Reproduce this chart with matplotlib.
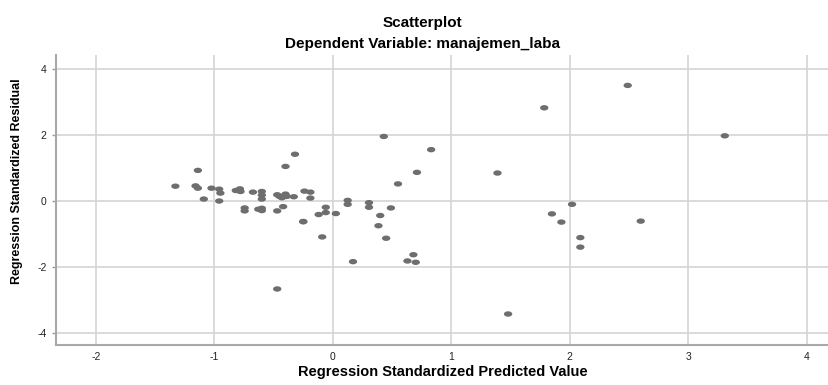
import numpy as np
import matplotlib
matplotlib.use("Agg")
import matplotlib.pyplot as plt
from matplotlib.path import Path

plt.rcParams['font.family'] = ['Liberation Sans', 'DejaVu Sans']
plt.rcParams['axes.unicode_minus'] = False

# regression standardized predicted value / residual
predicted = [
    2.49, 1.785, 3.31, 1.39, 2.02, 1.85, 1.93, 2.60, 2.09, 2.09, 1.48,
    0.43, 0.83, 0.71, 0.55, -0.24, -0.19, -0.19, 0.125, 0.125, 0.305, 0.305,
    0.49, -0.06, -0.06, -0.12, 0.025, 0.40, -0.25, 0.385, -0.09, 0.45, 0.17,
    0.68, 0.63, 0.70,
    -1.33, -1.14, -1.16, -1.14, -1.09, -1.025, -0.96, -0.95, -0.96,
    -0.82, -0.785, -0.78, -0.745, -0.745, -0.675, -0.60, -0.60, -0.60,
    -0.63, -0.60, -0.60, -0.47, -0.45, -0.40, -0.39, -0.43,
    -0.40, -0.32, -0.33, -0.47, -0.42, -0.25, -0.47,
]
residual = [
    3.51, 2.83, 1.98, 0.85, -0.10, -0.39, -0.64, -0.61, -1.11, -1.40, -3.43,
    1.96, 1.56, 0.87, 0.52, 0.30, 0.27, 0.09, 0.02, -0.10, -0.05, -0.19,
    -0.21, -0.19, -0.35, -0.41, -0.38, -0.44, -0.62, -0.75, -1.09, -1.13, -1.84,
    -1.63, -1.82, -1.86,
    0.45, 0.93, 0.46, 0.39, 0.06, 0.39, 0.36, 0.24, 0.00,
    0.32, 0.37, 0.29, -0.21, -0.30, 0.27, 0.29, 0.18, 0.06,
    -0.25, -0.22, -0.29, 0.19, 0.14, 0.21, 0.14, 0.10,
    1.05, 1.42, 0.13, -0.30, -0.17, -0.63, -2.67,
]
xticks = [-2, -1, 0, 1, 2, 3, 4]
yticks = [-4, -2, 0, 2, 4]

# flat ellipse marker like the SPSS dots
t = np.linspace(0, 2 * np.pi, 40)
ellipse = Path(np.column_stack([np.cos(t), 0.65 * np.sin(t)]), closed=True)

fig = plt.figure(figsize=(8.29, 3.85), dpi=100)
ax = fig.add_axes([0.0673, 0.104, 0.9327, 0.752])

ax.grid(True, color="#d4d4d4", linewidth=1.2)
ax.set_axisbelow(True)
ax.scatter(predicted, residual, marker=ellipse, s=36, color="#6e6e6e",
           edgecolors="none", zorder=3)

ax.set_xlim(-2.34, 4.19)
ax.set_ylim(-4.37, 4.42)
ax.set_xticks(xticks)
ax.set_yticks(yticks)
ax.tick_params(axis="both", labelsize=7.5, colors="#9a9a9a", labelcolor="#222222",
               length=3, width=1)
ax.tick_params(axis="x", length=0, pad=5)

for side in ["top", "right"]:
    ax.spines[side].set_visible(False)
for side in ["left", "bottom"]:
    ax.spines[side].set_color("#a8a8a8")
    ax.spines[side].set_linewidth(1.5)

ax.set_xlabel("Regression Standardized Predicted Value", fontsize=10.5,
              fontweight="bold", labelpad=2)
ax.set_ylabel("Regression Standardized Residual", fontsize=9,
              fontweight="bold")
ax.yaxis.set_label_coords(-0.043, 0.567)

fig.text(0.51, 0.94, "Scatterplot", ha="center", va="center",
         fontsize=11, fontweight="bold")
fig.text(0.51, 0.887, "Dependent Variable: manajemen_laba", ha="center",
         va="center", fontsize=11, fontweight="bold")

fig.savefig("out.png", dpi=100)
